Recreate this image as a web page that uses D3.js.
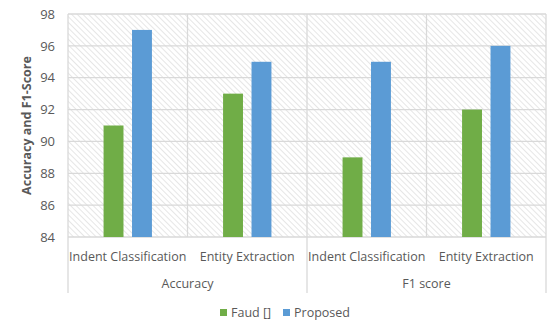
<!DOCTYPE html>
<html>
<head>
<meta charset="utf-8">
<script src="https://cdn.jsdelivr.net/npm/d3@7"></script>
<style>
body{margin:0;background:#fff;}
text{font-family:"Open Sans",sans-serif;fill:#595959;}
</style>
</head>
<body>
<svg width="550" height="323"></svg>
<script>
var groups = ['Accuracy', 'F1 score'];
var categories = ['Indent Classification', 'Entity Extraction'];
var seriesNames = ['Faud []', 'Proposed'];
var faud = [91, 93, 89, 92];
var proposed = [97, 95, 95, 96];
var yTicks = [84, 86, 88, 90, 92, 94, 96, 98];
var colors = ['#70ad47', '#5b9bd5'];

var svg = d3.select('svg');
var pLeft = 68, pRight = 546, pTop = 14, pBottom = 237;

// hatch pattern
var defs = svg.append('defs');
var pat = defs.append('pattern').attr('id','hatch').attr('patternUnits','userSpaceOnUse')
  .attr('width',4).attr('height',4).attr('patternTransform','rotate(-45)');
pat.append('rect').attr('width',4).attr('height',4).attr('fill','#fff');
pat.append('line').attr('x1',0).attr('y1',0).attr('x2',0).attr('y2',4)
  .attr('stroke','#d6d6d6').attr('stroke-width',1.2);

var slots = [];
groups.forEach(function(g, gi){ categories.forEach(function(c, ci){ slots.push(gi + '-' + ci); }); });

var x = d3.scaleBand().domain(slots).range([pLeft, pRight]);
var xs = d3.scaleBand().domain(seriesNames).range([0, x.bandwidth()]).paddingInner(0.3).paddingOuter(1.25);
var y = d3.scaleLinear().domain([84, 98]).range([pBottom, pTop]);

svg.append('rect').attr('x',pLeft).attr('y',pTop).attr('width',pRight-pLeft).attr('height',pBottom-pTop).attr('fill','url(#hatch)');

// horizontal grid
svg.selectAll('.hg').data(yTicks).enter().append('line')
  .attr('x1',pLeft).attr('x2',pRight).attr('y1',function(d){return y(d);}).attr('y2',function(d){return y(d);})
  .attr('stroke','#d9d9d9').attr('stroke-width',1.3);
// vertical grid
var vlines = slots.map(function(s){return x(s);}).concat([pRight]);
svg.selectAll('.vg').data(vlines).enter().append('line')
  .attr('x1',function(d){return d;}).attr('x2',function(d){return d;})
  .attr('y1',pTop).attr('y2',pBottom).attr('stroke','#d9d9d9').attr('stroke-width',1.3);

// bars
var series = [faud, proposed];
series.forEach(function(vals, si){
  svg.selectAll('.b'+si).data(vals).enter().append('rect')
    .attr('x',function(d,i){return x(slots[i]) + xs(seriesNames[si]);})
    .attr('width',xs.bandwidth())
    .attr('y',function(d){return y(d);})
    .attr('height',function(d){return pBottom - y(d);})
    .attr('fill',colors[si]);
});

// y axis labels
var yAxis = d3.axisLeft(y).tickValues(yTicks).tickSize(0).tickPadding(13);
var ya = svg.append('g').attr('transform','translate('+pLeft+',0)').call(yAxis);
ya.select('.domain').remove();
ya.selectAll('text').style('font-family','"Open Sans",sans-serif').style('font-size','13px').attr('fill','#595959');

// category labels
svg.selectAll('.cl').data(slots).enter().append('text')
  .attr('x',function(s){return x(s) + x.bandwidth()/2;}).attr('y',261)
  .attr('text-anchor','middle').style('font-size','12.5px')
  .text(function(s){return categories[+s.split('-')[1]];});

// group labels
var gx = d3.scaleBand().domain(groups).range([pLeft, pRight]);
svg.selectAll('.gl').data(groups).enter().append('text')
  .attr('x',function(g){return gx(g) + gx.bandwidth()/2;}).attr('y',288)
  .attr('text-anchor','middle').style('font-size','12.5px').text(function(g){return g;});
var gsep = groups.map(function(g){return gx(g);}).concat([pRight]);
svg.selectAll('.gs').data(gsep).enter().append('line')
  .attr('x1',function(d){return d;}).attr('x2',function(d){return d;})
  .attr('y1',pBottom).attr('y2',293).attr('stroke','#d9d9d9').attr('stroke-width',1.3);

// y title
svg.append('text').attr('transform','translate(31,'+((pTop+pBottom)/2)+') rotate(-90)')
  .attr('text-anchor','middle').style('font-size','12.5px').style('font-weight','bold')
  .text('Accuracy and F1-Score');

// legend
var leg = svg.append('g');
var lx = [220, 283];
seriesNames.forEach(function(n, i){
  leg.append('rect').attr('x',lx[i]).attr('y',309).attr('width',7).attr('height',7).attr('fill',colors[i]);
  leg.append('text').attr('x',lx[i]+11).attr('y',317).style('font-size','12.5px').text(n);
});
</script>
</body>
</html>
